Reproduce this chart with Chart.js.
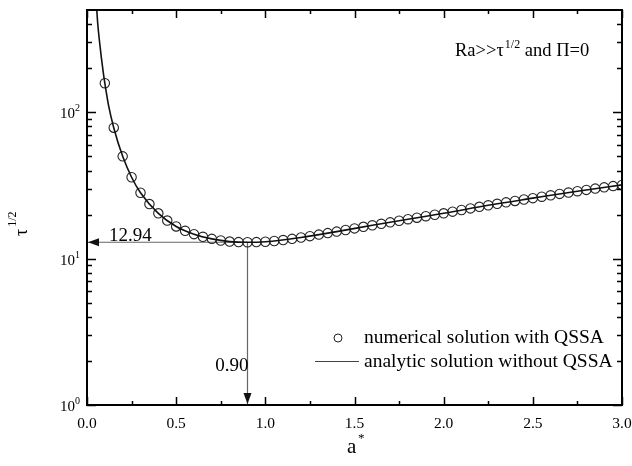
<!DOCTYPE html>
<html>
<head>
<meta charset="utf-8">
<script src="https://cdn.jsdelivr.net/npm/chart.js@4.4.1/dist/chart.umd.min.js"></script>
<style>
  html, body { margin: 0; padding: 0; background: #fff; }
  #wrap { width: 632px; height: 466px; }
</style>
</head>
<body>
<div id="wrap"><canvas id="tauChart" width="632" height="466"></canvas></div>
<script>
// numerical solution with QSSA (circles)
const aStar = [0.10, 0.15, 0.20, 0.25, 0.30, 0.35, 0.40, 0.45, 0.50, 0.55,
               0.60, 0.65, 0.70, 0.75, 0.80, 0.85, 0.90, 0.95, 1.00, 1.05,
               1.10, 1.15, 1.20, 1.25, 1.30, 1.35, 1.40, 1.45, 1.50, 1.55,
               1.60, 1.65, 1.70, 1.75, 1.80, 1.85, 1.90, 1.95, 2.00, 2.05,
               2.10, 2.15, 2.20, 2.25, 2.30, 2.35, 2.40, 2.45, 2.50, 2.55,
               2.60, 2.65, 2.70, 2.75, 2.80, 2.85, 2.90, 2.95, 3.00];
const tauNumerical = [158, 78.5, 50, 36, 28.2, 23.6, 20.4, 18.2, 16.6, 15.5,
                      14.7, 14.1, 13.65, 13.3, 13.08, 12.97, 12.94, 12.97, 13.05, 13.2,
                      13.4, 13.65, 13.95, 14.25, 14.6, 14.95, 15.3, 15.7, 16.1, 16.5,
                      16.9, 17.3, 17.7, 18.15, 18.6, 19.05, 19.5, 19.95, 20.4, 20.95,
                      21.5, 22.05, 22.6, 23.15, 23.7, 24.25, 24.8, 25.35, 25.9, 26.5,
                      27.1, 27.7, 28.3, 28.9, 29.5, 30.1, 30.7, 31.3, 31.9];

// analytic solution without QSSA (solid line)
const aLine = [0.054, 0.06, 0.07, 0.08, 0.09, 0.10, 0.12, 0.15, 0.20, 0.25, 0.30,
               0.40, 0.50, 0.60, 0.70, 0.80, 0.90, 1.00, 1.20, 1.40, 1.60,
               1.80, 2.00, 2.25, 2.50, 2.75, 3.00];
const tauAnalytic = [520, 406, 306, 239, 192, 158, 113, 78.5, 50, 36, 28.2,
                     20.4, 16.6, 14.7, 13.65, 13.08, 12.94, 13.05, 13.95, 15.3, 16.9,
                     18.6, 20.4, 23.15, 25.9, 28.9, 31.9];

// minimum marker
const minA = 0.90;
const minTau = 12.94;

const legendLabels = ['numerical solution with QSSA', 'analytic solution without QSSA'];

const xMajorTicks = [0, 0.5, 1.0, 1.5, 2.0, 2.5, 3.0];
const xMinorTicks = [0.25, 0.75, 1.25, 1.75, 2.25, 2.75];
const yMajorTicks = [1, 10, 100];
const yExponents = ['0', '1', '2'];
const yMinorTicks = [2, 3, 4, 5, 6, 7, 8, 9, 20, 30, 40, 50, 60, 70, 80, 90, 200, 300, 400];

const SERIF = '"Liberation Serif", "Times New Roman", serif';

const toPoints = (xs, ys) => xs.map((x, i) => ({ x: x, y: ys[i] }));

// frame, inward ticks, arrows, and the texts with superscripts
const decorPlugin = {
    id: 'decor',
    afterDraw(chart) {
        const { ctx, chartArea: ca, scales: { x, y } } = chart;
        ctx.save();

        // ticks (inside, mirrored on top/right)
        ctx.strokeStyle = '#000';
        ctx.lineWidth = 1.5;
        ctx.beginPath();
        const xTick = (v, len) => {
            const px = Math.round(x.getPixelForValue(v)) + 0.5;
            ctx.moveTo(px, ca.bottom); ctx.lineTo(px, ca.bottom - len);
            ctx.moveTo(px, ca.top); ctx.lineTo(px, ca.top + len);
        };
        const yTick = (v, len) => {
            const py = Math.round(y.getPixelForValue(v)) + 0.5;
            ctx.moveTo(ca.left, py); ctx.lineTo(ca.left + len, py);
            ctx.moveTo(ca.right, py); ctx.lineTo(ca.right - len, py);
        };
        xMajorTicks.forEach(v => xTick(v, 8));
        xMinorTicks.forEach(v => xTick(v, 4));
        yMajorTicks.forEach(v => yTick(v, 9));
        yMinorTicks.forEach(v => yTick(v, 5));
        ctx.stroke();

        // frame
        ctx.lineWidth = 2;
        ctx.strokeRect(ca.left, ca.top, ca.right - ca.left, ca.bottom - ca.top);

        // y tick labels 10^n
        ctx.fillStyle = '#000';
        ctx.textBaseline = 'alphabetic';
        yMajorTicks.forEach((v, i) => {
            const py = y.getPixelForValue(v);
            ctx.font = '15px ' + SERIF;
            ctx.textAlign = 'right';
            ctx.fillText('10', ca.left - 12, py + 6);
            ctx.font = '10px ' + SERIF;
            ctx.textAlign = 'left';
            ctx.fillText(yExponents[i], ca.left - 12, py - 1);
        });

        // arrow heads
        const ax = x.getPixelForValue(0);
        const ay = y.getPixelForValue(minTau);
        const bx = x.getPixelForValue(minA);
        const by = y.getPixelForValue(1);
        ctx.fillStyle = '#111';
        ctx.beginPath();
        ctx.moveTo(ax + 1, ay); ctx.lineTo(ax + 12, ay - 4); ctx.lineTo(ax + 12, ay + 4);
        ctx.closePath(); ctx.fill();
        ctx.beginPath();
        ctx.moveTo(bx, by - 1); ctx.lineTo(bx - 4, by - 12); ctx.lineTo(bx + 4, by - 12);
        ctx.closePath(); ctx.fill();

        // arrow labels
        ctx.fillStyle = '#000';
        ctx.font = '19px ' + SERIF;
        ctx.textAlign = 'left';
        ctx.fillText(minTau.toFixed(2), ax + 22, ay - 1);
        ctx.textAlign = 'right';
        ctx.fillText(minA.toFixed(2), bx + 1, ca.bottom - 34);

        // annotation Ra>>tau^1/2 and Pi=0
        let tx = 455;
        const ty = 56;
        ctx.textAlign = 'left';
        ctx.font = '18.5px ' + SERIF;
        ctx.fillText('Ra>>τ', tx, ty);
        tx += ctx.measureText('Ra>>τ').width + 1;
        ctx.font = '12px ' + SERIF;
        ctx.fillText('1/2', tx, ty - 8);
        tx += ctx.measureText('1/2').width;
        ctx.font = '18.5px ' + SERIF;
        ctx.fillText(' and Π=0', tx, ty);

        // legend
        const lx = 364;
        const ly1 = 338, ly2 = 362;
        ctx.strokeStyle = '#222';
        ctx.lineWidth = 1;
        ctx.beginPath();
        ctx.arc(338, ly1, 4, 0, Math.PI * 2);
        ctx.stroke();
        ctx.strokeStyle = '#444';
        ctx.beginPath();
        ctx.moveTo(315, ly2 - 0.5); ctx.lineTo(359, ly2 - 0.5);
        ctx.stroke();
        ctx.fillStyle = '#000';
        ctx.font = '19.5px ' + SERIF;
        ctx.textBaseline = 'middle';
        ctx.fillText(legendLabels[0], lx, ly1);
        ctx.fillText(legendLabels[1], lx, ly2);

        // x axis title a*
        ctx.textBaseline = 'alphabetic';
        ctx.font = '21px ' + SERIF;
        ctx.fillText('a', 347, 453);
        ctx.font = '13px ' + SERIF;
        ctx.fillText('*', 358, 442);

        // y axis title tau^1/2 (rotated)
        ctx.translate(27, 236);
        ctx.rotate(-Math.PI / 2);
        ctx.font = '18px ' + SERIF;
        ctx.fillText('τ', 0, 0);
        const tw = ctx.measureText('τ').width;
        ctx.font = '12px ' + SERIF;
        ctx.fillText('1/2', tw + 2, -11);
        ctx.restore();
    }
};

new Chart(document.getElementById('tauChart').getContext('2d'), {
    type: 'scatter',
    data: {
        datasets: [
            {
                label: legendLabels[1],
                type: 'line',
                data: toPoints(aLine, tauAnalytic),
                borderColor: '#111',
                borderWidth: 1.6,
                pointRadius: 0,
                fill: false,
                cubicInterpolationMode: 'monotone'
            },
            {
                label: legendLabels[0],
                data: toPoints(aStar, tauNumerical),
                pointStyle: 'circle',
                pointRadius: 4.7,
                borderColor: '#222',
                borderWidth: 1.1,
                backgroundColor: 'rgba(255,255,255,0)'
            },
            {
                label: 'min-h',
                type: 'line',
                data: [{ x: 0, y: minTau }, { x: minA, y: minTau }],
                borderColor: '#666',
                borderWidth: 1.2,
                pointRadius: 0
            },
            {
                label: 'min-v',
                type: 'line',
                data: [{ x: minA, y: minTau }, { x: minA, y: 1 }],
                borderColor: '#666',
                borderWidth: 1.2,
                pointRadius: 0
            }
        ]
    },
    options: {
        responsive: true,
        maintainAspectRatio: false,
        animation: false,
        layout: {
            padding: { top: 10, right: 10, left: 0, bottom: 0 }
        },
        plugins: {
            legend: { display: false },
            tooltip: { enabled: false }
        },
        scales: {
            x: {
                type: 'linear',
                min: 0,
                max: 3,
                grid: { display: false, drawTicks: false },
                border: { display: false },
                ticks: {
                    stepSize: 0.5,
                    autoSkip: false,
                    maxRotation: 0,
                    padding: 10,
                    color: '#000',
                    font: { family: SERIF, size: 15.5 },
                    callback: (v) => Number(v).toFixed(1)
                },
                afterFit: (s) => {
                    s.height = 61;
                    s.paddingLeft = 0;
                    s.paddingRight = 0;
                }
            },
            y: {
                type: 'logarithmic',
                min: 1,
                max: 500,
                grid: { display: false, drawTicks: false },
                border: { display: false },
                ticks: { display: false },
                afterFit: (s) => {
                    s.width = 87;
                    s.paddingTop = 0;
                    s.paddingBottom = 0;
                }
            }
        }
    },
    plugins: [decorPlugin]
});
</script>
</body>
</html>
